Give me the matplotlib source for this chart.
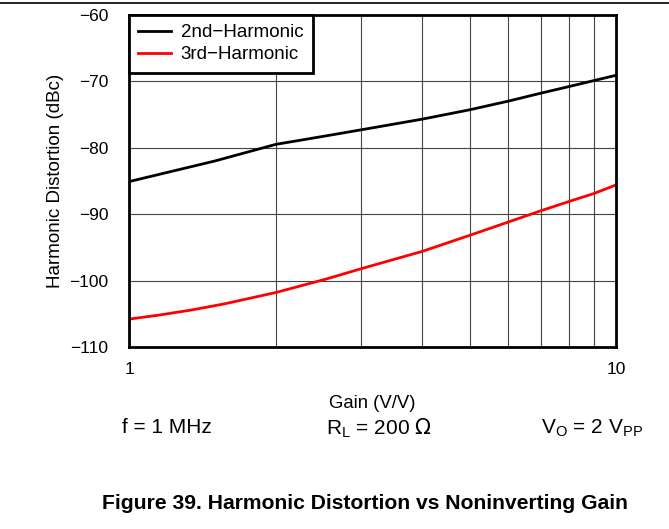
# harmonic distortion vs noninverting gain

import matplotlib
matplotlib.use("Agg")
import matplotlib.pyplot as plt
from matplotlib.ticker import FixedLocator, NullFormatter

plt.rcParams['font.family'] = ['Liberation Sans', 'DejaVu Sans']

# 2nd harmonic: gain (V/V) and level (dBc)
gain_hd2 = [1, 1.5, 2, 2.5, 3, 4, 5, 6, 7, 8, 9, 10]
hd2 = [-85.1, -82.0, -79.5, -78.3, -77.3, -75.7, -74.3, -73.0, -71.8, -70.8, -69.9, -69.1]
# 3rd harmonic: gain (V/V) and level (dBc)
gain_hd3 = [1, 1.15, 1.35, 1.57, 1.71, 2, 2.53, 3, 4, 5, 6, 7, 8, 9, 10]
hd3 = [-105.8, -105.2, -104.4, -103.5, -102.9, -101.8, -99.8, -98.2, -95.6, -93.2, -91.2, -89.5, -88.1, -86.9, -85.6]

fig = plt.figure(figsize=(6.69, 5.29), dpi=100)
ax = fig.add_axes([0.193, 0.344, 0.728, 0.628])

ax.plot(gain_hd2, hd2, color='black', lw=2, label='2nd\u2212Harmonic')
ax.plot(gain_hd3, hd3, color='#ff0000', lw=2, label='3rd\u2212Harmonic')

ax.set_xscale('log')
ax.set_xlim(1, 10)
ax.set_ylim(-110, -60)
ax.xaxis.set_major_locator(FixedLocator([1, 10]))
ax.xaxis.set_minor_locator(FixedLocator([2, 3, 4, 5, 6, 7, 8, 9]))
ax.xaxis.set_minor_formatter(NullFormatter())
ax.set_xticklabels(['1', '10'])
ax.set_yticks([-110, -100, -90, -80, -70, -60])
ax.set_yticklabels(['\u2212110', '\u2212100', '\u221290', '\u221280', '\u221270', '\u221260'])
ax.tick_params(which='both', length=0, labelsize=12.5, pad=11)
ax.tick_params(axis='y', pad=15)
ax.grid(True, which='both', color='#444444', lw=0.8)
for s in ax.spines.values():
    s.set_linewidth(2)

ax.set_xlabel('Gain (V/V)', fontsize=13.3, labelpad=13)
ax.set_ylabel('Harmonic Distortion (dBc)', fontsize=13.5, labelpad=4)

leg = ax.legend(loc='upper left', fontsize=13.5, frameon=True, fancybox=False,
                borderaxespad=0, handlelength=1.75, handletextpad=0.5,
                borderpad=0.5, labelspacing=0.27)
leg.get_frame().set_edgecolor('black')
leg.get_frame().set_linewidth(2)
leg.get_frame().set_alpha(1)

fig.text(0.182, 0.191, 'f = 1 MHz', fontsize=15, ha='left', va='center')
fig.text(0.487, 0.191, r'R$_\mathregular{L}$ = 200 $\Omega$', fontsize=15, ha='left', va='center')
fig.text(0.809, 0.191, r'V$_\mathregular{O}$ = 2 V$_\mathregular{PP}$', fontsize=15, ha='left', va='center')

fig.text(0.546, 0.049, 'Figure 39. Harmonic Distortion vs Noninverting Gain', fontsize=15.2,
         fontweight='bold', ha='center', va='center')

fig.add_artist(plt.Line2D([0, 1], [0.994, 0.994], color='black', lw=1.2))

fig.savefig('out.png', dpi=100)
